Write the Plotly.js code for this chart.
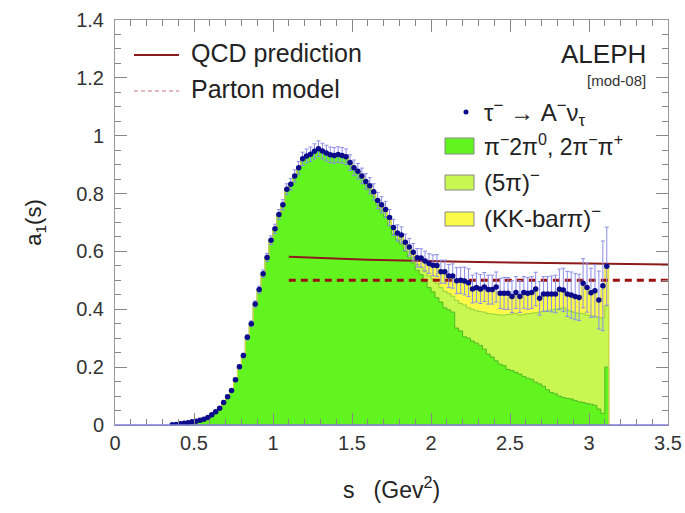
<!DOCTYPE html>
<html>
<head>
<meta charset="utf-8">
<script src="https://cdn.plot.ly/plotly-3.0.1.min.js"></script>
<style>html,body{margin:0;padding:0;background:#fff;}#chart{width:685px;height:513px;}</style>
</head>
<body>
<div id="chart"></div>
<script>
// Histogram binning: bin width 0.025 GeV^2, first bin centre 0.3625 (bins below are empty)
const binStart = 0.3625;
const binWidth = 0.025;

// Measured a1(s) spectral function (points), first bin centre 0.3625 ... last 3.1125
const dataA1 = [
  0.001, 0.002, 0.004, 0.006, 0.008, 0.011, 0.013, 0.016, 0.020, 0.026,
  0.035, 0.046, 0.058, 0.078, 0.098, 0.119, 0.156, 0.201, 0.240, 0.303,
  0.350, 0.418, 0.468, 0.523, 0.579, 0.639, 0.678, 0.728, 0.761, 0.815,
  0.832, 0.861, 0.889, 0.920, 0.930, 0.936, 0.946, 0.955, 0.947, 0.940,
  0.934, 0.932, 0.935, 0.932, 0.927, 0.907, 0.889, 0.877, 0.861, 0.842,
  0.827, 0.806, 0.776, 0.761, 0.745, 0.717, 0.683, 0.664, 0.657, 0.632,
  0.615, 0.597, 0.578, 0.577, 0.567, 0.558, 0.552, 0.551, 0.530, 0.530,
  0.515, 0.515, 0.499, 0.500, 0.498, 0.492, 0.470, 0.475, 0.470, 0.477,
  0.468, 0.468, 0.477, 0.455, 0.455, 0.455, 0.444, 0.458, 0.444, 0.458,
  0.455, 0.458, 0.470, 0.438, 0.453, 0.453, 0.453, 0.453, 0.469, 0.467,
  0.453, 0.449, 0.444, 0.441, 0.490, 0.475, 0.457, 0.464, 0.432, 0.481, 0.549
];
const dataErr = [
  0.002, 0.002, 0.002, 0.002, 0.002, 0.002, 0.002, 0.002, 0.002, 0.002,
  0.003, 0.003, 0.004, 0.004, 0.005, 0.005, 0.006, 0.007, 0.008, 0.009,
  0.010, 0.011, 0.012, 0.013, 0.014, 0.015, 0.016, 0.017, 0.018, 0.019,
  0.020, 0.021, 0.022, 0.023, 0.024, 0.025, 0.026, 0.027, 0.027, 0.027,
  0.027, 0.027, 0.027, 0.027, 0.027, 0.027, 0.027, 0.027, 0.027, 0.027,
  0.028, 0.028, 0.028, 0.028, 0.028, 0.028, 0.028, 0.028, 0.028, 0.028,
  0.030, 0.030, 0.032, 0.032, 0.034, 0.034, 0.036, 0.038, 0.040, 0.040,
  0.040, 0.042, 0.045, 0.045, 0.048, 0.048, 0.048, 0.050, 0.050, 0.050,
  0.050, 0.050, 0.052, 0.052, 0.055, 0.055, 0.055, 0.055, 0.055, 0.055,
  0.055, 0.055, 0.058, 0.058, 0.060, 0.060, 0.062, 0.065, 0.070, 0.075,
  0.078, 0.080, 0.080, 0.080, 0.085, 0.085, 0.085, 0.090, 0.100, 0.155, 0.135
];
// Stacked components (same binning, one extra empty bin at the end)
const threePi = [
  0.001, 0.002, 0.004, 0.006, 0.008, 0.011, 0.013, 0.016, 0.020, 0.026,
  0.035, 0.046, 0.058, 0.078, 0.098, 0.119, 0.156, 0.201, 0.240, 0.303,
  0.350, 0.418, 0.468, 0.523, 0.579, 0.639, 0.678, 0.728, 0.761, 0.815,
  0.832, 0.861, 0.889, 0.920, 0.930, 0.936, 0.946, 0.955, 0.947, 0.940,
  0.934, 0.932, 0.935, 0.932, 0.927, 0.907, 0.885, 0.870, 0.852, 0.830,
  0.812, 0.790, 0.760, 0.740, 0.720, 0.690, 0.660, 0.640, 0.625, 0.600,
  0.580, 0.560, 0.535, 0.520, 0.495, 0.475, 0.460, 0.440, 0.425, 0.405,
  0.398, 0.390, 0.335, 0.325, 0.305, 0.300, 0.290, 0.283, 0.275, 0.262,
  0.245, 0.235, 0.222, 0.210, 0.205, 0.192, 0.188, 0.182, 0.176, 0.168,
  0.162, 0.158, 0.148, 0.142, 0.134, 0.122, 0.112, 0.108, 0.100, 0.095,
  0.092, 0.090, 0.085, 0.080, 0.078, 0.074, 0.072, 0.068, 0.055, 0.040, 0.200, 0
];
const fivePi = [
  0, 0, 0, 0, 0, 0, 0, 0, 0, 0,
  0, 0, 0, 0, 0, 0, 0, 0, 0, 0,
  0, 0, 0, 0, 0, 0, 0, 0, 0, 0,
  0, 0, 0, 0, 0, 0, 0, 0, 0, 0,
  0, 0, 0, 0, 0, 0, 0.002, 0.003, 0.004, 0.005,
  0.006, 0.008, 0.008, 0.010, 0.012, 0.013, 0.014, 0.015, 0.017, 0.018,
  0.019, 0.020, 0.020, 0.025, 0.035, 0.040, 0.045, 0.050, 0.050, 0.057,
  0.057, 0.055, 0.095, 0.095, 0.110, 0.105, 0.110, 0.112, 0.117, 0.128,
  0.140, 0.149, 0.160, 0.170, 0.175, 0.190, 0.196, 0.203, 0.204, 0.214,
  0.223, 0.228, 0.240, 0.248, 0.258, 0.273, 0.286, 0.292, 0.303, 0.310,
  0.306, 0.302, 0.303, 0.306, 0.307, 0.306, 0.306, 0.307, 0.317, 0.330, 0.212, 0
];
const kkPi = [
  0, 0, 0, 0, 0, 0, 0, 0, 0, 0,
  0, 0, 0, 0, 0, 0, 0, 0, 0, 0,
  0, 0, 0, 0, 0, 0, 0, 0, 0, 0,
  0, 0, 0, 0, 0, 0, 0, 0, 0, 0,
  0, 0, 0, 0, 0, 0, 0, 0.003, 0.004, 0.006,
  0.008, 0.008, 0.008, 0.010, 0.012, 0.013, 0.009, 0.009, 0.014, 0.014,
  0.015, 0.016, 0.020, 0.028, 0.033, 0.038, 0.042, 0.055, 0.050, 0.060,
  0.055, 0.060, 0.062, 0.072, 0.075, 0.080, 0.065, 0.072, 0.070, 0.075,
  0.075, 0.076, 0.080, 0.068, 0.070, 0.068, 0.055, 0.068, 0.058, 0.070,
  0.065, 0.067, 0.075, 0.045, 0.055, 0.053, 0.050, 0.048, 0.060, 0.057,
  0.050, 0.052, 0.050, 0.050, 0.095, 0.090, 0.074, 0.084, 0.055, 0.100, 0.130, 0
];
// Theory curves
const qcdS = [1.1, 1.6, 2.2, 2.8, 3.5];
const qcdA1 = [0.582, 0.571, 0.564, 0.559, 0.555];
const partonS = [1.1, 3.5];
const partonA1 = [0.5, 0.5];

const FONT = '"Liberation Sans", Arial, Helvetica, sans-serif';
const C_GREEN = '#62f41f', C_LGREEN = '#c8f752', C_YELLOW = '#fbfa4a';
const C_RED = '#8e1b1b', C_POINT = '#0b0b8c', C_ERR = '#8c8ce8';

const traces = [
  {type:'scatter', mode:'lines', x0:binStart, dx:binWidth, y:threePi, stackgroup:'h',
   line:{shape:'hvh', color:'#46b81c', width:1}, fillcolor:C_GREEN, hoverinfo:'skip'},
  {type:'scatter', mode:'lines', x0:binStart, dx:binWidth, y:fivePi, stackgroup:'h',
   line:{shape:'hvh', color:'#8ed03a', width:1}, fillcolor:C_LGREEN, hoverinfo:'skip'},
  {type:'scatter', mode:'lines', x0:binStart, dx:binWidth, y:kkPi, stackgroup:'h',
   line:{shape:'hvh', color:'#d8d840', width:1}, fillcolor:C_YELLOW, hoverinfo:'skip'},
  {type:'scatter', mode:'lines', x:qcdS, y:qcdA1, line:{color:C_RED, width:2}},
  {type:'scatter', mode:'lines', x:partonS, y:partonA1, line:{color:'#9c1010', width:3, dash:'7px,5px'}},
  {type:'scatter', mode:'markers', x0:binStart, dx:binWidth, y:dataA1,
   marker:{color:C_POINT, size:5.5},
   error_y:{type:'data', array:dataErr, color:C_ERR, thickness:1, width:2}}
];

// paper-coordinate helpers for the hand-made legend (plot area: x 115..668, y 20..425 px)
const px = v => (v - 115) / 553;
const py = v => (425 - v) / 405;

const annFont = {family:FONT, size:24, color:'#222'};
function ann(text, xp, yp, anchor, font) {
  return {text:text, xref:'paper', yref:'paper', x:px(xp), y:py(yp), xanchor:anchor, yanchor:'middle',
          showarrow:false, font:font || annFont};
}
const bigFont = {family:FONT, size:25, color:'#222'};
const annotations = [
  ann('QCD prediction', 189, 53, 'left', bigFont),
  ann('Parton model', 189, 89, 'left', bigFont),
  ann('ALEPH', 648, 54, 'right', {family:FONT, size:26, color:'#222'}),
  ann('[mod-08]', 648, 80, 'right', {family:FONT, size:15, color:'#333'}),
  ann('τ<sup>−</sup> → A<sup>−</sup>ν<sub>τ</sub>', 482, 113, 'left'),
  ann('π<sup>−</sup>2π<sup>0</sup>, 2π<sup>−</sup>π<sup>+</sup>', 482, 145, 'left', {family:FONT, size:23, color:'#222'}),
  ann('(5π)<sup>−</sup>', 482, 181, 'left'),
  ann('(KK-barπ)<sup>−</sup>', 482, 217, 'left')
];
const shapes = [
  {type:'line', xref:'paper', yref:'paper', x0:0, x1:1, y0:0, y1:0, line:{color:'#8080d8', width:1.5}, layer:'above'},
  {type:'line', xref:'paper', yref:'paper', x0:px(134), x1:px(179), y0:py(55), y1:py(55), line:{color:C_RED, width:2}},
  {type:'line', xref:'paper', yref:'paper', x0:px(134), x1:px(179), y0:py(91), y1:py(91), line:{color:'#dba3a3', width:1.5, dash:'4px,3px'}},
  {type:'circle', xref:'paper', yref:'paper', x0:px(463.5), x1:px(468.5), y0:py(114.5), y1:py(109.5), fillcolor:C_POINT, line:{color:C_POINT, width:0}},
  {type:'rect', xref:'paper', yref:'paper', x0:px(445), x1:px(474), y0:py(154), y1:py(138), fillcolor:C_GREEN, line:{color:'#888', width:1}},
  {type:'rect', xref:'paper', yref:'paper', x0:px(445), x1:px(474), y0:py(190), y1:py(175), fillcolor:C_LGREEN, line:{color:'#888', width:1}},
  {type:'rect', xref:'paper', yref:'paper', x0:px(445), x1:px(474), y0:py(226), y1:py(212), fillcolor:C_YELLOW, line:{color:'#888', width:1}}
];

const axisCommon = {
  showgrid:false, zeroline:false, showline:true, linecolor:'#999', linewidth:1,
  ticks:'inside', ticklen:12, tickcolor:'#888', tickwidth:1, mirror:'ticks',
  tickfont:{family:FONT, size:20, color:'#333'}
};

const layout = {
  width:685, height:513,
  margin:{l:115, r:17, t:20, b:88},
  paper_bgcolor:'#fff', plot_bgcolor:'#fff',
  showlegend:false,
  font:{family:FONT, color:'#222'},
  xaxis:Object.assign({}, axisCommon, {
    range:[0, 3.5], dtick:0.5, tick0:0,
    minor:{dtick:0.1, ticks:'inside', ticklen:6, tickcolor:'#888', showgrid:false},
    title:{text:'s   (Gev<sup>2</sup>)', font:{family:FONT, size:23, color:'#222'}, standoff:28}
  }),
  yaxis:Object.assign({}, axisCommon, {
    range:[0, 1.4], dtick:0.2, tick0:0,
    minor:{dtick:0.05, ticks:'inside', ticklen:6, tickcolor:'#888', showgrid:false},
    ticklabelstandoff:6,
    title:{text:'a<sub>1</sub>(s)', font:{family:FONT, size:22, color:'#222'}, standoff:28}
  }),
  annotations:annotations,
  shapes:shapes
};

Plotly.newPlot('chart', traces, layout, {displayModeBar:false, staticPlot:true});
</script>
</body>
</html>
